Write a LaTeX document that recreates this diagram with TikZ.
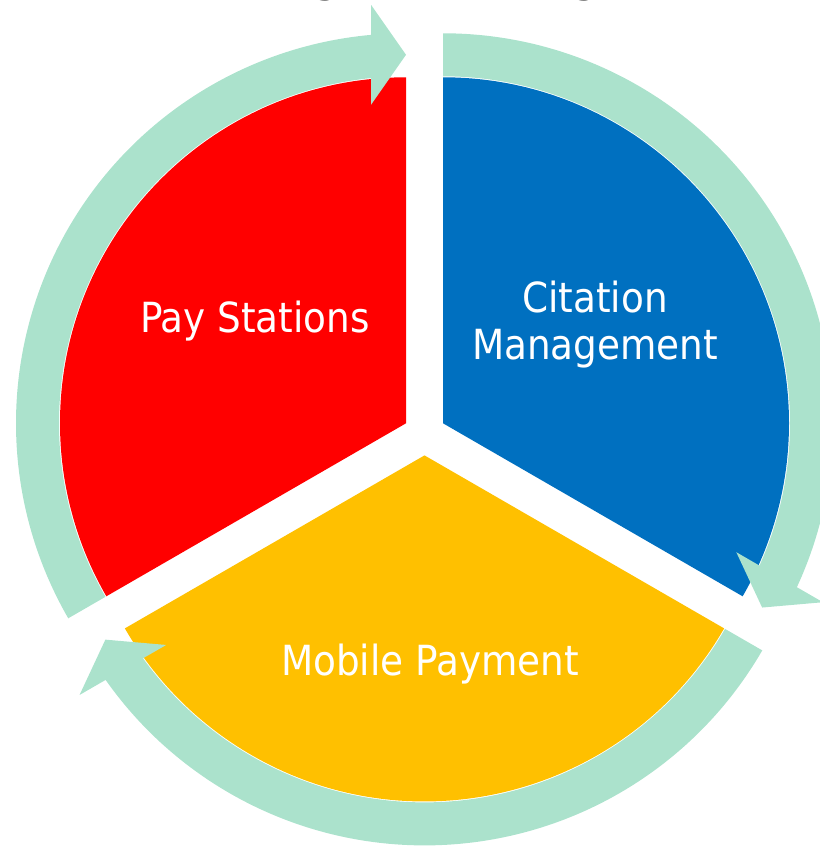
\documentclass[tikz,border=0pt]{standalone}
\usepackage{fontspec}
\usepackage{tikz}
\usetikzlibrary{calc}
\newfontfamily\labelfont{DejaVu Sans Condensed}
\definecolor{payred}{RGB}{255,0,0}
\definecolor{citeblue}{RGB}{0,112,192}
\definecolor{mobileyellow}{RGB}{255,192,0}
\definecolor{cyclegreen}{RGB}{171,226,204}
\newcommand{\pieradius}{346}
% block arc arrow round one slice: #1 apex, #2 angle of the tip
\newcommand{\cyclearrow}[2]{
  \fill[cyclegreen,shift={(#1)},rotate=#2] (120:390) arc[start angle=120,end angle=5.15,radius=390]
    -- (418.5,35) -- (368.5,0) -- (318.5,35) -- (5.79:347) arc[start angle=5.79,end angle=120,radius=347] -- cycle;}

\begin{document}
\begin{tikzpicture}[x=1bp,y=1bp]
  \useasboundingbox (0,0) rectangle (820,847);
  \tikzstyle{slicetext}=[text=white,inner sep=0pt,anchor=base,font=\labelfont\fontsize{41.5bp}{47bp}\selectfont]
  \tikzstyle{titletext}=[text=black,inner sep=0pt,anchor=base,font=\labelfont\fontsize{60bp}{70bp}\selectfont]
  \coordinate (redapex) at (406,423.7);
  \coordinate (blueapex) at (443,423.7);
  \coordinate (yellowapex) at (424.5,391.6);
  % slices
  \fill[payred] (redapex) -- ++(90:\pieradius) arc[start angle=90,end angle=210,radius=\pieradius] -- cycle;
  \fill[citeblue] (blueapex) -- ++(90:\pieradius) arc[start angle=90,end angle=-30,radius=\pieradius] -- cycle;
  \fill[mobileyellow] (yellowapex) -- ++(-30:\pieradius) arc[start angle=-30,end angle=-150,radius=\pieradius] -- cycle;
  % arrows
  \cyclearrow{redapex}{90}
  \cyclearrow{blueapex}{-30}
  \cyclearrow{yellowapex}{210}
  % labels
  \node[slicetext] (pay) at (255,514) {Pay Stations};
  \node[slicetext,align=center] (citation) at (595,487) {Citation\\Management};
  \node[slicetext] (mobile) at (430,171) {Mobile Payment};
  % bits of the title above
  \node[titletext] (titleg1) at (327,858) {g};
  \node[titletext] (titleg2) at (586,858) {g};
\end{tikzpicture}
\end{document}
